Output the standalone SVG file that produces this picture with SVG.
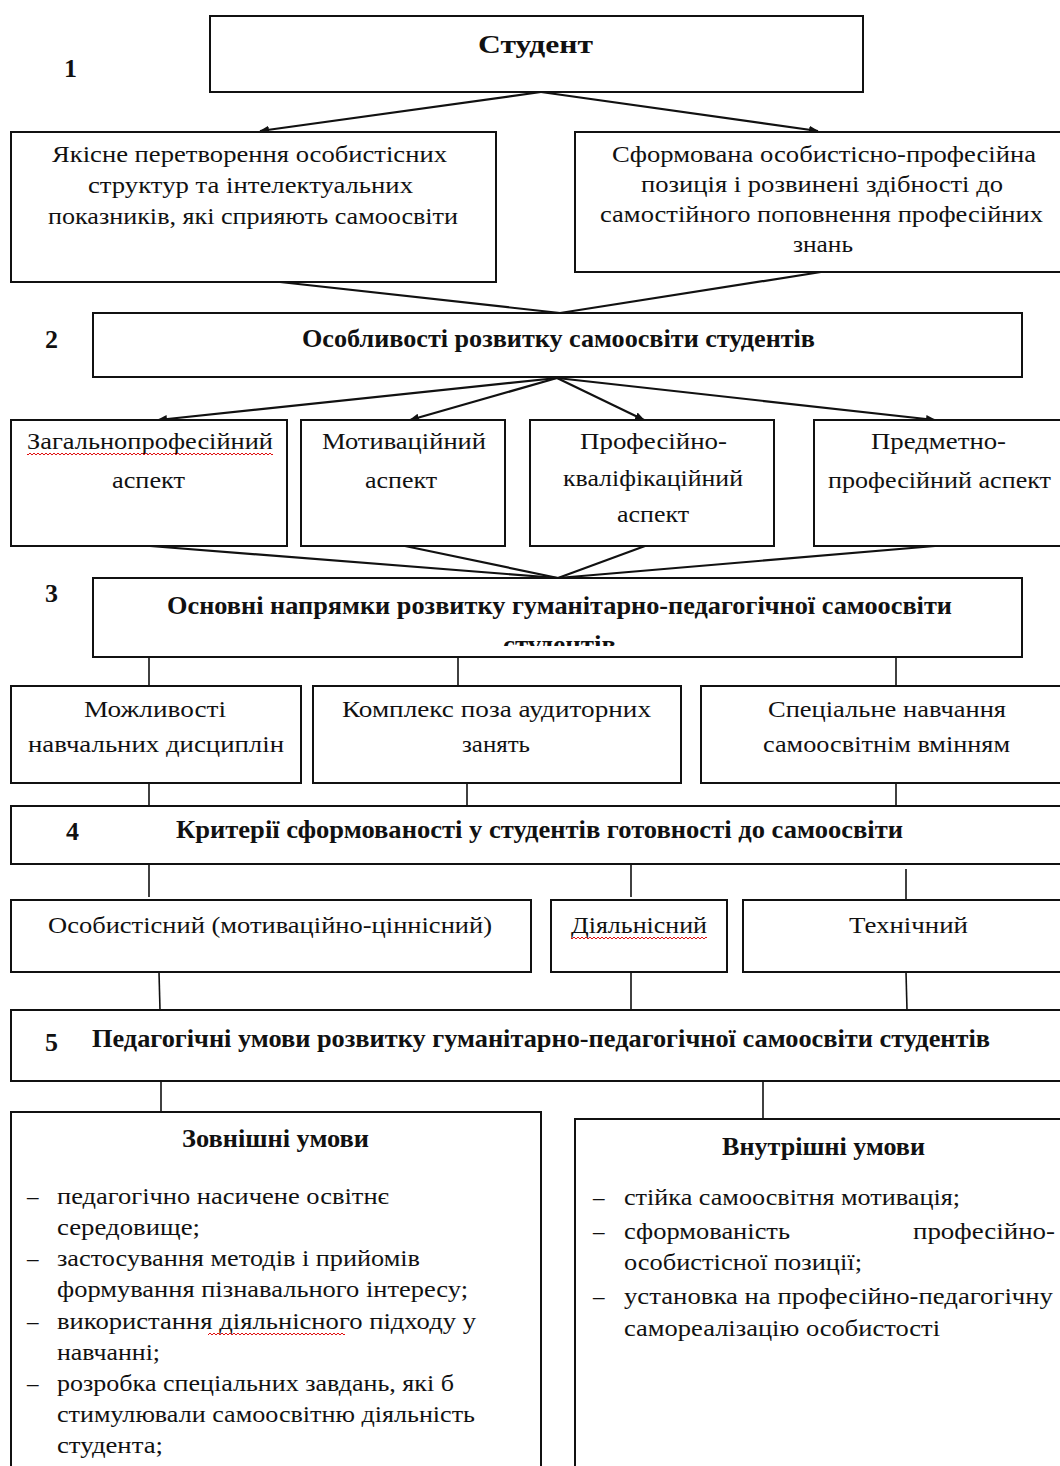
<svg xmlns="http://www.w3.org/2000/svg" width="1060" height="1466" viewBox="0 0 1060 1466">
<style>
.box{fill:#fff;stroke:#111;stroke-width:2}
.t{font-family:"Liberation Serif","Times New Roman",serif;font-size:23px;fill:#111}
.b{font-weight:bold;font-size:25px}
.n{font-family:"Liberation Serif","Times New Roman",serif;font-weight:bold;font-size:26px;fill:#111}
.c{stroke:#111;stroke-width:2.2;fill:none}
.v{stroke:#111;stroke-width:1.6;fill:none}
</style>
<defs>
<marker id="ah" markerWidth="10" markerHeight="10" refX="9" refY="5" orient="auto" markerUnits="userSpaceOnUse">
<path d="M0,1 L10,5 L0,9 Z" fill="#111"/>
</marker>
<pattern id="wave" width="4" height="4" patternUnits="userSpaceOnUse">
<polyline points="0,3 2,1 4,3" fill="none" stroke="#e01010" stroke-width="1"/>
</pattern>
<clipPath id="clip3"><rect x="93" y="578" width="929" height="68"/></clipPath>
</defs>

<g id="connectors">
<line class="c" x1="541" y1="92" x2="260" y2="131" marker-end="url(#ah)"/>
<line class="c" x1="541" y1="92" x2="818" y2="131" marker-end="url(#ah)"/>
<line class="c" x1="280" y1="282" x2="560" y2="313"/>
<line class="c" x1="821" y1="272" x2="560" y2="313"/>
<line class="c" x1="557" y1="378" x2="158" y2="420" marker-end="url(#ah)"/>
<line class="c" x1="557" y1="378" x2="410" y2="420" marker-end="url(#ah)"/>
<line class="c" x1="557" y1="378" x2="644" y2="420" marker-end="url(#ah)"/>
<line class="c" x1="557" y1="378" x2="935" y2="420" marker-end="url(#ah)"/>
<line class="c" x1="150" y1="546" x2="558" y2="578"/>
<line class="c" x1="405" y1="546" x2="558" y2="578"/>
<line class="c" x1="645" y1="546" x2="558" y2="578"/>
<line class="c" x1="935" y1="546" x2="558" y2="578"/>
<line class="v" x1="149" y1="657" x2="149" y2="686"/>
<line class="v" x1="458" y1="657" x2="458" y2="686"/>
<line class="v" x1="896" y1="657" x2="896" y2="686"/>
<line class="v" x1="149" y1="775" x2="149" y2="806"/>
<line class="v" x1="467" y1="783" x2="467" y2="811"/>
<line class="v" x1="896" y1="776" x2="896" y2="806"/>
<line class="v" x1="149" y1="864" x2="149" y2="897"/>
<line class="v" x1="631" y1="864" x2="631" y2="897"/>
<line class="v" x1="906" y1="869" x2="906" y2="900"/>
<line class="v" x1="159" y1="972" x2="160" y2="1010"/>
<line class="v" x1="631" y1="963" x2="631" y2="1010"/>
<line class="v" x1="906" y1="972" x2="907" y2="1010"/>
<line class="v" x1="161" y1="1072" x2="161" y2="1112"/>
<line class="v" x1="763" y1="1081" x2="763" y2="1119"/>
</g>

<g id="n-student">
<rect class="box" x="210" y="16" width="653" height="76"/>
<text class="t b" x="478" y="53" font-size="30" textLength="115" lengthAdjust="spacingAndGlyphs">Студент</text>
</g>
<g id="n-label1"><text class="n" x="64" y="77" font-size="27">1</text></g>

<g id="n-left1">
<rect class="box" x="11" y="132" width="485" height="150"/>
<text class="t" x="52" y="162" textLength="395" lengthAdjust="spacingAndGlyphs">Якісне перетворення особистісних</text>
<text class="t" x="88" y="193" textLength="325" lengthAdjust="spacingAndGlyphs">структур та інтелектуальних</text>
<text class="t" x="48" y="224" textLength="410" lengthAdjust="spacingAndGlyphs">показників, які сприяють самоосвіти</text>
</g>
<g id="n-right1">
<rect class="box" x="575" y="132" width="492" height="140"/>
<text class="t" x="612" y="162" textLength="424" lengthAdjust="spacingAndGlyphs">Сформована особистісно-професійна</text>
<text class="t" x="641" y="192" textLength="362" lengthAdjust="spacingAndGlyphs">позиція і розвинені здібності до</text>
<text class="t" x="600" y="222" textLength="443" lengthAdjust="spacingAndGlyphs">самостійного поповнення професійних</text>
<text class="t" x="793" y="252" textLength="60" lengthAdjust="spacingAndGlyphs">знань</text>
</g>

<g id="n-label2"><text class="n" x="45" y="348">2</text></g>
<g id="n-features">
<rect class="box" x="93" y="313" width="929" height="64"/>
<text class="t b" x="302" y="347" textLength="513" lengthAdjust="spacingAndGlyphs">Особливості розвитку самоосвіти студентів</text>
</g>

<g id="n-aspect1">
<rect class="box" x="11" y="420" width="276" height="126"/>
<text class="t" x="27" y="449" textLength="246" lengthAdjust="spacingAndGlyphs">Загальнопрофесійний</text>
<rect x="27" y="453" width="246" height="4" fill="url(#wave)"/>
<text class="t" x="112" y="488" textLength="73" lengthAdjust="spacingAndGlyphs">аспект</text>
</g>
<g id="n-aspect2">
<rect class="box" x="301" y="420" width="204" height="126"/>
<text class="t" x="322" y="449" textLength="164" lengthAdjust="spacingAndGlyphs">Мотиваційний</text>
<text class="t" x="365" y="488" textLength="72" lengthAdjust="spacingAndGlyphs">аспект</text>
</g>
<g id="n-aspect3">
<rect class="box" x="530" y="420" width="244" height="126"/>
<text class="t" x="580" y="449" textLength="147" lengthAdjust="spacingAndGlyphs">Професійно-</text>
<text class="t" x="563" y="486" textLength="180" lengthAdjust="spacingAndGlyphs">кваліфікаційний</text>
<text class="t" x="617" y="522" textLength="72" lengthAdjust="spacingAndGlyphs">аспект</text>
</g>
<g id="n-aspect4">
<rect class="box" x="814" y="420" width="252" height="126"/>
<text class="t" x="871" y="449" textLength="135" lengthAdjust="spacingAndGlyphs">Предметно-</text>
<text class="t" x="828" y="488" textLength="223" lengthAdjust="spacingAndGlyphs">професійний аспект</text>
</g>

<g id="n-label3"><text class="n" x="45" y="602">3</text></g>
<g id="n-directions">
<rect class="box" x="93" y="578" width="929" height="79"/>
<text class="t b" x="167" y="614" textLength="785" lengthAdjust="spacingAndGlyphs">Основні напрямки розвитку  гуманітарно-педагогічної самоосвіти</text>
<text class="t b" x="503" y="653" textLength="113" lengthAdjust="spacingAndGlyphs" clip-path="url(#clip3)">студентів</text>
</g>

<g id="n-dir1">
<rect class="box" x="11" y="686" width="290" height="97"/>
<text class="t" x="84" y="717" textLength="142" lengthAdjust="spacingAndGlyphs">Можливості</text>
<text class="t" x="28" y="752" textLength="256" lengthAdjust="spacingAndGlyphs">навчальних дисциплін</text>
</g>
<g id="n-dir2">
<rect class="box" x="313" y="686" width="368" height="97"/>
<text class="t" x="342" y="717" textLength="309" lengthAdjust="spacingAndGlyphs">Комплекс поза аудиторних</text>
<text class="t" x="462" y="752" textLength="68" lengthAdjust="spacingAndGlyphs">занять</text>
</g>
<g id="n-dir3">
<rect class="box" x="701" y="686" width="366" height="97"/>
<text class="t" x="768" y="717" textLength="238" lengthAdjust="spacingAndGlyphs">Спеціальне навчання</text>
<text class="t" x="763" y="752" textLength="247" lengthAdjust="spacingAndGlyphs">самоосвітнім вмінням</text>
</g>

<g id="n-criteria">
<rect class="box" x="11" y="806" width="1056" height="58"/>
<text class="n" x="66" y="840" font-size="17">4</text>
<text class="t b" x="176" y="838" textLength="727" lengthAdjust="spacingAndGlyphs">Критерії сформованості у студентів готовності до самоосвіти</text>
</g>

<g id="n-crit1">
<rect class="box" x="11" y="900" width="520" height="72"/>
<text class="t" x="48" y="933" textLength="444" lengthAdjust="spacingAndGlyphs">Особистісний (мотиваційно-ціннісний)</text>
</g>
<g id="n-crit2">
<rect class="box" x="551" y="900" width="176" height="72"/>
<text class="t" x="571" y="933" textLength="136" lengthAdjust="spacingAndGlyphs">Діяльнісний</text>
<rect x="571" y="937" width="136" height="4" fill="url(#wave)"/>
</g>
<g id="n-crit3">
<rect class="box" x="743" y="900" width="324" height="72"/>
<text class="t" x="849" y="933" textLength="119" lengthAdjust="spacingAndGlyphs">Технічний</text>
</g>

<g id="n-conditions">
<rect class="box" x="11" y="1010" width="1056" height="71"/>
<text class="n" x="45" y="1051">5</text>
<text class="t b" x="92" y="1047" textLength="898" lengthAdjust="spacingAndGlyphs">Педагогічні умови розвитку гуманітарно-педагогічної самоосвіти студентів</text>
</g>

<g id="n-external">
<rect class="box" x="11" y="1112" width="530" height="370"/>
<text class="t b" x="182" y="1147" font-size="24" textLength="187" lengthAdjust="spacingAndGlyphs">Зовнішні умови</text>
<text class="t" x="27" y="1204">–</text>
<text class="t" x="57" y="1204" textLength="332" lengthAdjust="spacingAndGlyphs">педагогічно насичене освітнє</text>
<text class="t" x="57" y="1235" textLength="143" lengthAdjust="spacingAndGlyphs">середовище;</text>
<text class="t" x="27" y="1266">–</text>
<text class="t" x="57" y="1266" textLength="363" lengthAdjust="spacingAndGlyphs">застосування методів і прийомів</text>
<text class="t" x="57" y="1297" textLength="411" lengthAdjust="spacingAndGlyphs">формування пізнавального інтересу;</text>
<text class="t" x="27" y="1329">–</text>
<text class="t" x="57" y="1329" textLength="419" lengthAdjust="spacingAndGlyphs">використання діяльнісного підходу у</text>
<rect x="208" y="1333" width="137" height="4" fill="url(#wave)"/>
<text class="t" x="57" y="1360" textLength="103" lengthAdjust="spacingAndGlyphs">навчанні;</text>
<text class="t" x="27" y="1391">–</text>
<text class="t" x="57" y="1391" textLength="397" lengthAdjust="spacingAndGlyphs">розробка спеціальних завдань, які б</text>
<text class="t" x="57" y="1422" textLength="418" lengthAdjust="spacingAndGlyphs">стимулювали самоосвітню діяльність</text>
<text class="t" x="57" y="1453" textLength="106" lengthAdjust="spacingAndGlyphs">студента;</text>
</g>

<g id="n-internal">
<rect class="box" x="575" y="1119" width="492" height="370"/>
<text class="t b" x="722" y="1155" font-size="24" textLength="203" lengthAdjust="spacingAndGlyphs">Внутрішні умови</text>
<text class="t" x="593" y="1205">–</text>
<text class="t" x="624" y="1205" textLength="336" lengthAdjust="spacingAndGlyphs">стійка самоосвітня мотивація;</text>
<text class="t" x="593" y="1239">–</text>
<text class="t" x="624" y="1239" textLength="166" lengthAdjust="spacingAndGlyphs">сформованість</text>
<text class="t" x="913" y="1239" textLength="142" lengthAdjust="spacingAndGlyphs">професійно-</text>
<text class="t" x="624" y="1270" textLength="238" lengthAdjust="spacingAndGlyphs">особистісної позиції;</text>
<text class="t" x="593" y="1304">–</text>
<text class="t" x="624" y="1304" textLength="429" lengthAdjust="spacingAndGlyphs">установка на професійно-педагогічну</text>
<text class="t" x="624" y="1336" textLength="316" lengthAdjust="spacingAndGlyphs">самореалізацію особистості</text>
</g>
</svg>
